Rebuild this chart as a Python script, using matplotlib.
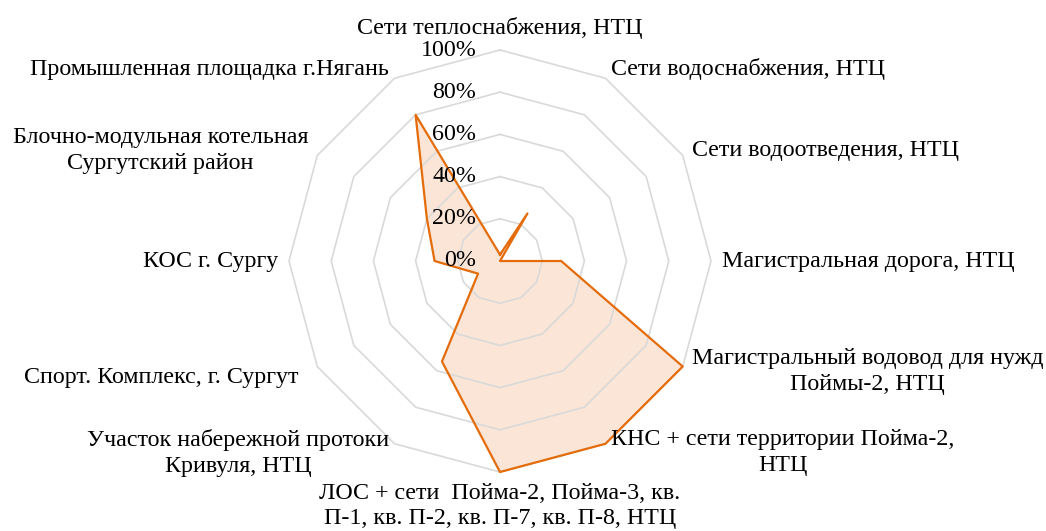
import numpy as np
import matplotlib
matplotlib.use('Agg')
import matplotlib.pyplot as plt

plt.rcParams['font.family'] = ['Liberation Serif', 'DejaVu Serif']

# objects, clockwise from the top
categories = [
    'Сети теплоснабжения, НТЦ',
    'Сети водоснабжения, НТЦ',
    'Сети водоотведения, НТЦ',
    'Магистральная дорога, НТЦ',
    'Магистральный водовод для нужд\nПоймы-2, НТЦ',
    'КНС + сети территории Пойма-2,\nНТЦ',
    'ЛОС + сети  Пойма-2, Пойма-3, кв.\nП-1, кв. П-2, кв. П-7, кв. П-8, НТЦ',
    'Участок набережной протоки\nКривуля, НТЦ',
    'Спорт. Комплекс, г. Сургут',
    'КОС г. Сургу',
    'Блочно-модульная котельная\nСургутский район',
    'Промышленная площадка г.Нягань',
]
# completion, fraction of 1
values = [0.03, 0.26, 0.0, 0.29, 1.0, 1.0, 1.0, 0.55, 0.12, 0.31, 0.40, 0.80]
ring_levels = [0.0, 0.2, 0.4, 0.6, 0.8, 1.0]
ring_labels = ['0%', '20%', '40%', '60%', '80%', '100%']

n = len(categories)
theta = np.arange(n) * 2 * np.pi / n
theta_c = np.append(theta, theta[0])
vals_c = np.append(values, values[0])

W, H = 1046, 531
cx, cy, R = 500, 261, 211
fs = 17.3
fig = plt.figure(figsize=(W / 100, H / 100), dpi=100)
ax = fig.add_axes([(cx - R) / W, (H - cy - R) / H, 2 * R / W, 2 * R / H],
                  projection='polar')
ax.set_theta_zero_location('N')
ax.set_theta_direction(-1)
ax.set_ylim(0, 1)
ax.set_xticks([])
ax.set_yticks([])
ax.grid(False)
ax.spines['polar'].set_visible(False)
ax.patch.set_alpha(0)

# series
ax.fill(theta_c, vals_c, color='#fbe5d6', zorder=1, clip_on=False)
for lev in ring_levels[1:]:
    ax.plot(theta_c, [lev] * (n + 1), color='#d9d9d9', lw=1.2, zorder=2,
            clip_on=False)
ax.plot(theta_c, vals_c, color='#e46c0a', lw=1.6, zorder=3, clip_on=False)

# value axis labels
for lev, lab in zip(ring_levels, ring_labels):
    ax.annotate(lab, xy=(0, lev), xytext=(-17, 0), textcoords='offset points',
                ha='right', va='center', fontsize=fs, zorder=4)

# category labels
label_r = [1.05, 1.05, 1.05, 1.05, 1.05, 1.05, 1.05, 1.05, 1.1, 1.05, 1.05, 1.05]
for t, lab, r in zip(theta, categories, label_r):
    deg = np.degrees(t)
    if deg == 0:
        ha, va = 'center', 'bottom'
    elif deg == 180:
        ha, va = 'center', 'top'
    elif deg < 180:
        ha, va = 'left', 'center'
    else:
        ha, va = 'right', 'center'
    ax.text(t, r, lab, ha=ha, va=va, fontsize=fs, multialignment='center',
            linespacing=1.3)

fig.savefig('out.png', dpi=100)
